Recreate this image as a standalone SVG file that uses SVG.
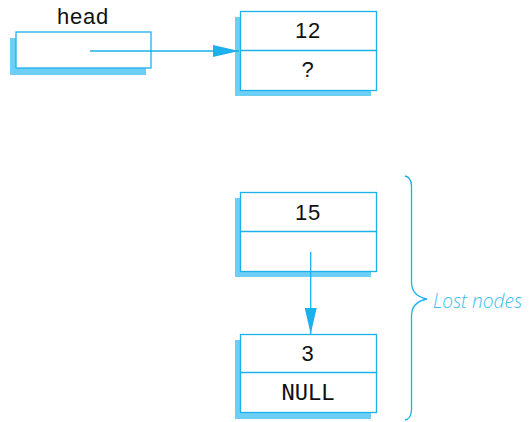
<svg xmlns="http://www.w3.org/2000/svg" width="531" height="422" viewBox="0 0 531 422">
<defs>
<style>
.sh{fill:#6dcff6;stroke:none}
.bx{fill:#fff;stroke:#1cb0ec;stroke-width:1.3}
.ln{stroke:#1cb0ec;stroke-width:1.3;fill:none}
.t{font-family:"Liberation Sans",Arial,sans-serif;font-size:22px;letter-spacing:0.8px;fill:#111;text-anchor:middle}
.m{font-family:"DejaVu Sans Mono","Liberation Mono",monospace;font-size:22px;fill:#111;text-anchor:middle}
</style>
<marker id="ah" markerWidth="26" markerHeight="12" refX="26" refY="6" orient="auto" markerUnits="userSpaceOnUse">
<path d="M0,0 L26,6 L0,12 Z" fill="#1cb0ec"/>
</marker>
</defs>
<g id="head">
<text class="t" x="83" y="24">head</text>
<rect class="sh" x="10" y="38" width="136" height="37"/>
<rect class="bx" x="16" y="32" width="135" height="36"/>
</g>
<g id="node12">
<rect class="sh" x="235" y="17" width="136" height="79"/>
<rect class="bx" x="240.5" y="11.5" width="136" height="79"/>
<line class="ln" x1="240.5" y1="50.5" x2="376.5" y2="50.5"/>
<text class="t" x="308" y="38">12</text>
<text class="t" x="308" y="77">?</text>
</g>
<g id="node15">
<rect class="sh" x="235" y="198" width="136" height="79"/>
<rect class="bx" x="240.5" y="192.5" width="136" height="79"/>
<line class="ln" x1="240.5" y1="231.5" x2="376.5" y2="231.5"/>
<text class="t" x="308" y="220">15</text>
</g>
<g id="node3">
<rect class="sh" x="235" y="340" width="136" height="79"/>
<rect class="bx" x="240.5" y="334.5" width="136" height="78"/>
<line class="ln" x1="240.5" y1="372.5" x2="376.5" y2="372.5"/>
<text class="t" x="308" y="361">3</text>
<text class="m" x="308" y="400">NULL</text>
</g>
<g id="connectors">
<line class="ln" x1="90" y1="51" x2="239" y2="51" marker-end="url(#ah)"/>
<line class="ln" x1="310.7" y1="252" x2="310.7" y2="334" marker-end="url(#ah)"/>
</g>
<g id="brace">
<path class="ln" d="M405,176 Q411,177 411.5,186 L411.5,282 Q411.5,296 427,299 Q411.5,302 411.5,316 L411.5,410 Q411,419 405,420"/>
<text x="433" y="307.5" textLength="89" lengthAdjust="spacingAndGlyphs" style="font-family:'Open Sans','DejaVu Sans',sans-serif;font-style:italic;font-weight:300;font-size:21px;fill:#3cc0f0">Lost nodes</text>
</g>
</svg>
